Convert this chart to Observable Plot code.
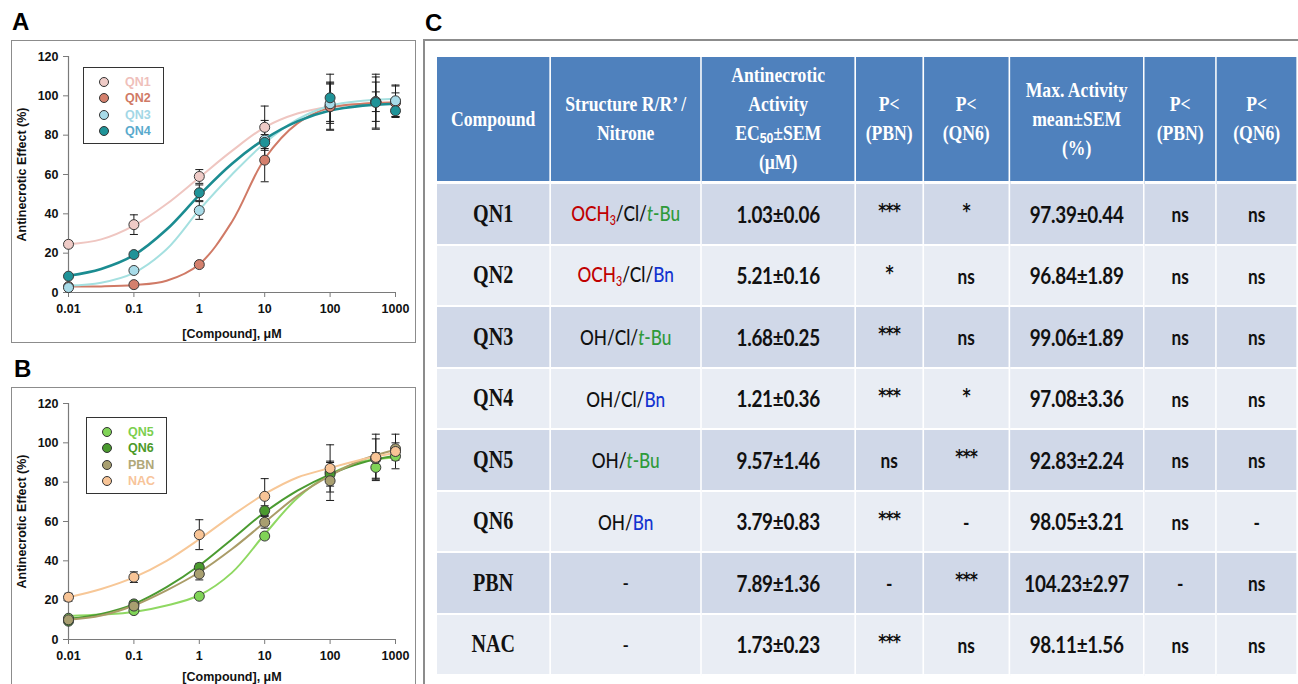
<!DOCTYPE html>
<html><head><meta charset="utf-8">
<script src="https://cdn.jsdelivr.net/npm/d3@7"></script>
<script src="https://cdn.jsdelivr.net/npm/@observablehq/plot@0.6"></script>
<style>
html,body{margin:0;padding:0;}
body{width:1298px;height:684px;overflow:hidden;background:#fff;position:relative;font-family:"Liberation Sans",Arial,sans-serif;}
.plabel{position:absolute;font:bold 24px "Liberation Sans",Arial,sans-serif;line-height:1;color:#000;}
.frame{position:absolute;border:1.5px solid #8c8c8c;box-sizing:border-box;}
.chart{position:absolute;}
.legend{position:absolute;border:1.5px solid #333;box-sizing:border-box;background:#fff;}
.legend .row{position:absolute;left:0;height:16px;width:100%;}
.legend .dot{position:absolute;width:10px;height:10px;border-radius:50%;border:1px solid #333;box-sizing:border-box;}
.legend .lab{position:absolute;font:bold 12.5px "Liberation Sans",Arial,sans-serif;line-height:16px;}
#tablewrap{position:absolute;left:437px;top:57px;transform-origin:0 0;transform:scaleX(0.82);}
table{border-collapse:separate;border-spacing:0;table-layout:fixed;width:1050px;}
th{background:#4f81bd;color:#fff;font:bold 21.5px "Liberation Serif","Times New Roman",serif;line-height:29px;height:127px;padding:0;border-right:2px solid #fff;border-bottom:3px solid #fff;text-align:center;vertical-align:middle;white-space:nowrap;box-sizing:border-box;}
td{padding:0;height:61.5px;box-sizing:border-box;border-right:2px solid #fff;border-bottom:2px solid #fff;text-align:center;vertical-align:middle;white-space:nowrap;color:#111;overflow:visible;}
tr.odd td{background:#d0d8e8;}
tr.even td{background:#e9edf4;}
td.cmp{font:bold 24.5px "Liberation Serif","Times New Roman",serif;}
td.str{font:500 21px Lato,"Open Sans",sans-serif;}
td.val{font:bold 23px Lato,"Open Sans",sans-serif;letter-spacing:-0.3px;}
td.sig{font:bold 21px Lato,"Open Sans",sans-serif;}
td.sig span.star{position:relative;top:-5px;font:bold 19px "DejaVu Sans",sans-serif;letter-spacing:-1px;}
sub.ec{font:bold 15px "Liberation Sans",sans-serif;vertical-align:-3px;}
sub.s{font-size:13px;vertical-align:-4px;}
</style>
</head><body>
<div class="plabel" style="left:12px;top:10px;">A</div>
<div class="plabel" style="left:14px;top:357px;">B</div>
<div class="plabel" style="left:425px;top:11px;">C</div>
<div class="frame" style="left:11px;top:40px;width:405px;height:303px;"></div>
<div class="frame" style="left:11px;top:387px;width:405px;height:303px;"></div>
<div style="position:absolute;left:423px;top:39px;width:2px;height:660px;background:#8c8c8c;"></div>
<div style="position:absolute;left:423px;top:39px;width:880px;height:2px;background:#8c8c8c;"></div>
<div id="chartA" class="chart" style="left:11px;top:40px;"></div>
<div id="chartB" class="chart" style="left:11px;top:387px;"></div>
<div id="legendA" class="legend" style="left:83px;top:67px;width:81px;height:77px;"></div>
<div id="legendB" class="legend" style="left:86px;top:417px;width:81px;height:77px;"></div>
<div id="tablewrap"></div>
<script>
// ---------- Data ----------
const doses = [0.01, 0.1, 1, 10, 100, 500, 1000];
const fitDoses = [0.01, 0.0316, 0.1, 0.316, 1, 3.16, 10, 31.6, 100, 316, 1000];
const xTicks = [0.01, 0.1, 1, 10, 100, 1000];
const xTickLabels = ["0.01", "0.1", "1", "10", "100", "1000"];
const yTicks = [0, 20, 40, 60, 80, 100, 120];

// Panel A
const seriesA = ["QN1", "QN2", "QN3", "QN4"];
const qn1Mean = [24.5, 34.5, 59, 84, 95, 97, 97];
const qn1Sem  = [1.5, 5, 3.5, 10.8, 12, 14, 8];
const qn2Mean = [3, 4, 14.2, 67.3, 94.5, 97, 96.5];
const qn2Sem  = [0.5, 0.5, 1.5, 11, 12, 10, 5];
const qn3Mean = [2.5, 11.2, 41.7, 77.5, 96, 97, 97.5];
const qn3Sem  = [0.5, 1, 4.5, 10, 10, 5, 8];
const qn4Mean = [8.3, 19.3, 50.7, 76.3, 99, 96.6, 92.4];
const qn4Sem  = [0.8, 1.2, 4, 4, 12, 13, 3];
const qn1Fit = [24.5, 27, 34, 45, 58.5, 72, 84, 91, 94.5, 96, 97];
const qn2Fit = [3, 3.1, 3.8, 6, 14.4, 36, 68, 86, 94, 96, 96.5];
const qn3Fit = [3.5, 5, 10, 22, 42, 60, 76, 88, 95, 97.5, 98.5];
const qn4Fit = [8.5, 12, 19, 32, 49.5, 65.5, 78, 87, 92.5, 95, 96];

// Panel B
const seriesB = ["QN5", "QN6", "PBN", "NAC"];
const qn5Mean = [10.8, 14.7, 22, 52.6, 85, 87.5, 93.2];
const qn5Sem  = [1, 1, 1, 1.5, 3, 6, 2];
const qn6Mean = [9.3, 18.1, 36.7, 65.5, 84, 92, 96];
const qn6Sem  = [1, 1, 2, 2.5, 6, 3, 2];
const pbnMean = [10, 17, 33.3, 59.6, 80.7, 92, 97];
const pbnSem  = [1, 1, 3, 3, 10, 10, 3];
const nacMean = [21.5, 31.7, 53.3, 72.8, 87, 92.6, 95.6];
const nacSem  = [2, 2.7, 7.6, 9, 12, 11.8, 8.8];
const qn5Fit = [12, 12.7, 14, 17.3, 22.5, 34, 53.5, 72, 84, 90.5, 92.6];
const qn6Fit = [10.5, 13, 18, 26.6, 37.6, 51, 64.7, 75.7, 84, 90, 93.4];
const pbnFit = [10, 12.2, 17.3, 25, 34.2, 46, 59.6, 73, 83.3, 91.5, 96.5];
const nacFit = [21.5, 25.7, 31.6, 40, 51, 63, 74, 82.4, 87.2, 91.7, 95];

// Table C
const columnHeaders = [["Compound"], ["Structure R/R’ /", "Nitrone"], ["Antinecrotic", "Activity", "EC50±SEM", "(μM)"], ["P<", "(PBN)"], ["P<", "(QN6)"], ["Max. Activity", "mean±SEM", "(%)"], ["P<", "(PBN)"], ["P<", "(QN6)"]];
const compounds = ["QN1", "QN2", "QN3", "QN4", "QN5", "QN6", "PBN", "NAC"];
const structures = ["OCH3/Cl/t-Bu", "OCH3/Cl/Bn", "OH/Cl/t-Bu", "OH/Cl/Bn", "OH/t-Bu", "OH/Bn", "-", "-"];
const ec50Mean = [1.03, 5.21, 1.68, 1.21, 9.57, 3.79, 7.89, 1.73];
const ec50Sem  = [0.06, 0.16, 0.25, 0.36, 1.46, 0.83, 1.36, 0.23];
const ec50VsPBN = ["***", "*", "***", "***", "ns", "***", "-", "***"];
const ec50VsQN6 = ["*", "ns", "ns", "*", "***", "-", "***", "ns"];
const maxMean = [97.39, 96.84, 99.06, 97.08, 92.83, 98.05, 104.23, 98.11];
const maxSem  = [0.44, 1.89, 1.89, 3.36, 2.24, 3.21, 2.97, 1.56];
const maxVsPBN = ["ns", "ns", "ns", "ns", "ns", "ns", "-", "ns"];
const maxVsQN6 = ["ns", "ns", "ns", "ns", "ns", "-", "ns", "ns"];

// ---------- Styles ----------
const fillsA  = ["#efcbc7", "#d4806d", "#a8dbe8", "#1f9398"];
const linesA  = ["#efc6c1", "#d07a66", "#a5e0e0", "#1b8c91"];
const labelsA = ["#efc0bb", "#d07a66", "#a3d7e6", "#5aaacd"];
const widthsA = [2, 2, 2, 2.6];
const fillsB  = ["#80d457", "#4a9a2e", "#a89f70", "#f8c496"];
const linesB  = ["#8fd862", "#4b9b31", "#aa9c68", "#f7c797"];
const labelsB = ["#7ccf4f", "#4d9a2a", "#b0a878", "#f7c49a"];
const widthsB = [2, 2, 2, 2];

const capSymbol = {draw(ctx, size) { const r = Math.sqrt(size / Math.PI); ctx.moveTo(-r, 0); ctx.lineTo(r, 0); }};

function makeChart(series, means, sems, fits, fills, lines, widths, xLabelOffset) {
  const marks = [
    Plot.ruleY([0], {stroke: "#7a7a7a", strokeWidth: 1.2}),
    Plot.ruleX([0.01], {stroke: "#7a7a7a", strokeWidth: 1.2}),
    Plot.axisX({ticks: xTicks, tickFormat: d => xTickLabels[xTicks.indexOf(d)], tickSize: 5, tickPadding: 7, stroke: "#7a7a7a", fontSize: 12.5,
      label: "[Compound], μM", labelAnchor: "center", labelOffset: xLabelOffset, labelArrow: "none"}),
    Plot.axisY({ticks: yTicks, tickSize: 5, tickPadding: 5, stroke: "#7a7a7a", fontSize: 12.5,
      label: "Antinecrotic Effect (%)", labelAnchor: "center", labelOffset: 51, labelArrow: "none"})
  ];
  series.forEach((s, i) => {
    const fitData = fitDoses.map((d, j) => ({dose: d, value: fits[i][j]}));
    marks.push(Plot.line(fitData, {x: "dose", y: "value", stroke: lines[i], strokeWidth: widths[i], curve: "catmull-rom"}));
  });
  series.forEach((s, i) => {
    const pts = doses.map((d, j) => ({dose: d, mean: means[i][j], sem: sems[i][j]}));
    marks.push(Plot.ruleX(pts, {x: "dose", y1: d => d.mean - d.sem, y2: d => d.mean + d.sem, stroke: "#1a1a1a", strokeWidth: 1}));
    marks.push(Plot.dot(pts, {x: "dose", y: d => d.mean + d.sem, symbol: capSymbol, r: 4, fill: "none", stroke: "#1a1a1a", strokeWidth: 1}));
    marks.push(Plot.dot(pts, {x: "dose", y: d => d.mean - d.sem, symbol: capSymbol, r: 4, fill: "none", stroke: "#1a1a1a", strokeWidth: 1}));
  });
  series.forEach((s, i) => {
    const pts = doses.map((d, j) => ({dose: d, mean: means[i][j]}));
    marks.push(Plot.dot(pts, {x: "dose", y: "mean", r: 5, fill: fills[i], stroke: "#3a3a3a", strokeWidth: 1}));
  });
  return Plot.plot({
    width: 405, height: 303,
    marginLeft: 57, marginRight: 21, marginTop: 16, marginBottom: 51,
    x: {type: "log", domain: [0.01, 1000]},
    y: {domain: [0, 120]},
    style: {fontFamily: "'Liberation Sans', Arial, sans-serif", fontSize: "12px", fontWeight: "bold", background: "transparent", color: "#111", overflow: "visible"},
    marks
  });
}

document.getElementById("chartA").appendChild(makeChart(seriesA,
  [qn1Mean, qn2Mean, qn3Mean, qn4Mean], [qn1Sem, qn2Sem, qn3Sem, qn4Sem],
  [qn1Fit, qn2Fit, qn3Fit, qn4Fit], fillsA, linesA, widthsA, 45));
document.getElementById("chartB").appendChild(makeChart(seriesB,
  [qn5Mean, qn6Mean, pbnMean, nacMean], [qn5Sem, qn6Sem, pbnSem, nacSem],
  [qn5Fit, qn6Fit, pbnFit, nacFit], fillsB, linesB, widthsB, 41));

function makeLegend(el, series, fills, labels) {
  series.forEach((s, i) => {
    const row = document.createElement("div");
    row.className = "row";
    row.style.top = (6 + i * 16.3) + "px";
    const dot = document.createElement("div");
    dot.className = "dot";
    dot.style.left = "15px"; dot.style.top = "3px";
    dot.style.background = fills[i];
    const lab = document.createElement("div");
    lab.className = "lab";
    lab.style.left = "41px"; lab.style.top = "0px";
    lab.style.color = labels[i];
    lab.textContent = s;
    row.appendChild(dot); row.appendChild(lab);
    el.appendChild(row);
  });
}
makeLegend(document.getElementById("legendA"), seriesA, fillsA, labelsA);
makeLegend(document.getElementById("legendB"), seriesB, fillsB, labelsB);

// ---------- Table ----------
const scaleXT = 0.82;
const colWidths = [114, 151, 154, 68, 86, 135, 72, 81].map(w => w / scaleXT);
const partColor = {"OCH3": "#c00000", "t-Bu": "#2f9a3a", "Bn": "#1233d0"};
function renderPart(p) {
  if (p === "OCH3") return `<span style="color:${partColor[p]}">OCH<sub class="s">3</sub></span>`;
  if (p === "t-Bu") return `<span style="color:${partColor[p]}"><i>t</i>-Bu</span>`;
  if (p === "Bn") return `<span style="color:${partColor[p]}">Bn</span>`;
  return `<span style="color:#111">${p}</span>`;
}
function renderStructure(s) { return s === "-" ? "-" : s.split("/").map(renderPart).join('<span style="color:#111">/</span>'); }
function renderHeaderLine(l) { return l.replace("<", "&lt;").replace("EC50", 'EC<sub class="ec">50</sub>'); }
const fmt = (m, e) => m.toFixed(2) + "±" + e.toFixed(2);

let html = '<table><colgroup>' + colWidths.map(w => `<col style="width:${w}px">`).join("") + '</colgroup>';
html += '<tr>' + columnHeaders.map(h => `<th>${h.map(renderHeaderLine).join("<br>")}</th>`).join("") + '</tr>';
compounds.forEach((c, i) => {
  const sig = v => v.includes("*") ? `<td class="sig"><span class="star">${v}</span></td>` : `<td class="sig">${v}</td>`;
  html += `<tr class="${i % 2 === 0 ? "odd" : "even"}">` +
    `<td class="cmp">${c}</td>` +
    `<td class="str">${renderStructure(structures[i])}</td>` +
    `<td class="val">${fmt(ec50Mean[i], ec50Sem[i])}</td>` +
    sig(ec50VsPBN[i]) + sig(ec50VsQN6[i]) +
    `<td class="val">${fmt(maxMean[i], maxSem[i])}</td>` +
    sig(maxVsPBN[i]) + sig(maxVsQN6[i]) + '</tr>';
});
html += '</table>';
document.getElementById("tablewrap").innerHTML = html;
</script>
</body></html>
